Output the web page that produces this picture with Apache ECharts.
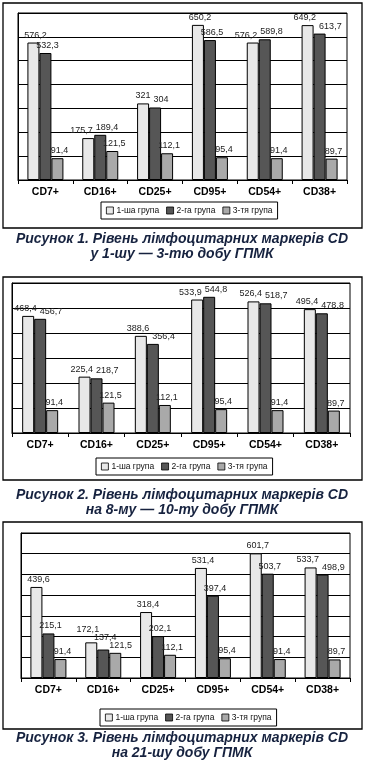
<!DOCTYPE html>
<html>
<head>
<meta charset="utf-8">
<script src="https://cdn.jsdelivr.net/npm/echarts@6/dist/echarts.min.js"></script>
<style>
html,body{margin:0;padding:0;background:#fff;}
#c{width:366px;height:762px;}
</style>
</head>
<body>
<div id="c"></div>
<script>
const categories = ['CD7+','CD16+','CD25+','CD95+','CD54+','CD38+'];
const groupNames = ['1-ша група','2-га група','3-тя група'];

const p1g1 = [576.2,175.7,321,650.2,576.2,649.2];
const p1g2 = [532.3,189.4,304,586.5,589.8,613.7];
const p1g3 = [91.4,121.5,112.1,95.4,91.4,89.7];

const p2g1 = [468.4,225.4,388.6,533.9,526.4,495.4];
const p2g2 = [456.7,218.7,356.4,544.8,518.7,478.8];
const p2g3 = [91.4,121.5,112.1,95.4,91.4,89.7];

const p3g1 = [439.6,172.1,318.4,531.4,601.7,533.7];
const p3g2 = [215.1,137.4,202.1,397.4,503.7,498.9];
const p3g3 = [91.4,121.5,112.1,95.4,91.4,89.7];

const yMax = [700,600,700];
const yInterval = 100;

const captions = [
  'Рисунок 1. Рівень лімфоцитарних маркерів CD\nу 1-шу — 3-тю добу ГПМК',
  'Рисунок 2. Рівень лімфоцитарних маркерів CD\nна 8-му — 10-ту добу ГПМК',
  'Рисунок 3. Рівень лімфоцитарних маркерів CD\nна 21-шу добу ГПМК'
];

const panelData = [[p1g1,p1g2,p1g3],[p2g1,p2g2,p2g3],[p3g1,p3g2,p3g3]];

// layout
const grids = [
  {left:18, right:19, top:13, height:167},
  {left:12, right:16, top:283, height:150},
  {left:21, right:16, top:533, height:145}
];
const panels = [{y:3,h:225},{y:277,h:203},{y:522,h:207}];
const legendPos = [{left:101, top:202},{left:96, top:458},{left:100, top:709}];
const captionTop = [231, 487, 730];

const colors = ['#e8e8e8','#565656','#a9a9a9'];
const BAR_W = 12;

const fmt = p => String(p.value).replace('.', ',');
const FONT = 'Liberation Sans, Arial, sans-serif';

// Spread labels of neighbouring bars when they would collide
function labelLayout(params) {
  const pi = Math.floor(params.seriesIndex / 3);
  const si = params.seriesIndex % 3;
  const j = params.dataIndex;
  const scale = grids[pi].height / yMax[pi];
  const h = panelData[pi].map(a => a[j] * scale);
  const lh = params.labelRect.height;
  const need = Math.max(0, (params.labelRect.width + 3 - BAR_W) / 2);
  const conflict = (a, b) => Math.abs(h[a] - h[b]) < lh;
  const chain = conflict(0, 1) && conflict(1, 2);
  let dx = 2, dy = 0;
  if (chain) {
    // staircase: raise left labels above their right neighbours
    const t2 = h[2];
    const t1 = Math.max(h[1], t2 + lh * 0.9);
    const t0 = Math.max(h[0], t1 + lh * 0.9);
    const t = [t0, t1, t2];
    dy = -(t[si] - h[si]);
    dx = [-need * 0.5, 2, 2 + need * 0.5][si];
  } else {
    // the lower label of a colliding pair moves further aside
    if (si > 0 && conflict(si - 1, si)) dx += need * (h[si] < h[si - 1] ? 1.3 : 0.7);
    if (si < 2 && conflict(si, si + 1)) dx -= need * (h[si] < h[si + 1] ? 1.3 : 0.7);
  }
  return {dx: dx, dy: dy};
}

const option = {
  animation:false,
  textStyle:{fontFamily:FONT},
  grid: grids.map(g => Object.assign({show:true, borderColor:'#000', borderWidth:1, backgroundColor:'transparent'}, g)),
  xAxis: grids.map((g,i) => ({
    type:'category', gridIndex:i, data:categories,
    axisLine:{show:true, lineStyle:{color:'#000', width:1}},
    axisTick:{show:true, length:4, lineStyle:{color:'#000'}},
    axisLabel:{color:'#000', fontWeight:'bold', fontSize:10.5, margin:7, fontFamily:FONT}
  })),
  yAxis: grids.map((g,i) => ({
    type:'value', gridIndex:i, min:0, max:yMax[i], interval:yInterval,
    axisLine:{show:true, lineStyle:{color:'#000'}},
    axisTick:{show:false},
    axisLabel:{show:false},
    splitLine:{show:true, lineStyle:{color:'#000', width:1}}
  })),
  legend: legendPos.map(p => ({
    data: groupNames,
    left:p.left, top:p.top,
    orient:'horizontal',
    icon:'rect',
    itemWidth:7, itemHeight:7, itemGap:7,
    padding:[4,5],
    borderColor:'#000', borderWidth:1,
    itemStyle:{borderWidth:0.8},
    textStyle:{fontSize:8.5, color:'#111', fontFamily:FONT, padding:[0,0,0,-2]},
    selectedMode:false
  })),
  title: captions.map((t,i) => ({
    text:t, left:182, top:captionTop[i], textAlign:'center',
    padding:0,
    textStyle:{fontSize:14, fontWeight:'bold', fontStyle:'italic', color:'#16223f', lineHeight:15.5, fontFamily:FONT}
  })),
  graphic: panels.map(p => ({
    type:'rect', shape:{x:3, y:p.y, width:359, height:p.h},
    style:{fill:'none', stroke:'#000', lineWidth:1.3}, silent:true, z:0
  })),
  series: []
};

panelData.forEach((arrs, pi) => {
  arrs.forEach((vals, si) => {
    option.series.push({
      type:'bar', name:groupNames[si], xAxisIndex:pi, yAxisIndex:pi,
      data: vals, barWidth:BAR_W, barGap:'0%',
      itemStyle:{color:colors[si], borderColor:'#000', borderWidth:1},
      label:{show:true, position:'top', distance:3, fontSize:9, color:'#222', formatter:fmt, fontFamily:FONT},
      labelLayout: labelLayout
    });
  });
});

const chart = echarts.init(document.getElementById('c'), null, {renderer:'canvas'});
chart.setOption(option);
</script>
</body>
</html>
